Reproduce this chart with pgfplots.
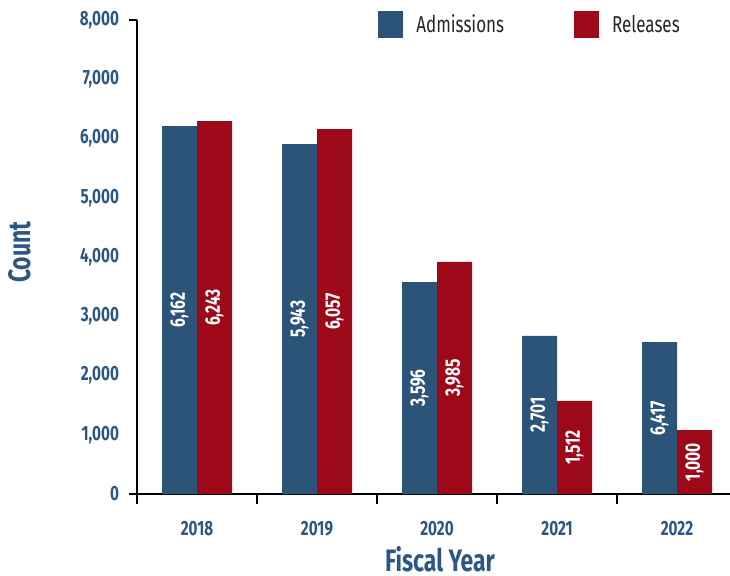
\documentclass[border=0pt]{standalone}
\usepackage{fontspec}
\setmainfont{Fira Sans}[FakeStretch=0.74]
\usepackage{pgfplots}
\pgfplotsset{compat=1.18}
\usetikzlibrary{calc}
\definecolor{admblue}{HTML}{2C5479}
\definecolor{relred}{HTML}{9D0918}
\definecolor{labblue}{HTML}{2D5783}

\begin{document}
\begin{tikzpicture}
\begin{axis}[
  scale only axis, width=300pt, height=237pt,
  xmin=-0.5, xmax=4.5, ymin=0, ymax=8000,
  ybar=0pt, bar width=17.5pt,
  axis lines*=left,
  axis line style={black, line width=0.6pt},
  xtick={0,1,2,3,4}, xticklabels={2018,2019,2020,2021,2022},
  ytick={0,1000,...,8000},
  major tick length=0pt,
  tick style={black, line width=0.6pt},
  extra x ticks={-0.5,0.5,1.5,2.5,3.5,4.5}, extra x tick labels={},
  extra x tick style={tick align=outside, major tick length=5pt},
  extra y ticks={0,8000}, extra y tick labels={},
  extra y tick style={tick align=outside, major tick length=4pt},
  scaled y ticks=false,
  yticklabel={\pgfmathprintnumber[1000 sep={,}]{\tick}},
  /pgf/number format/assume math mode=true,
  tick label style={font=\bfseries\fontsize{10.3}{12}\selectfont, text=labblue},
  xticklabel style={yshift=-10pt},
  yticklabel style={xshift=-5.5pt},
  xlabel={Fiscal Year}, ylabel={Count},
  label style={font=\bfseries\fontsize{15.5}{17}\selectfont, text=labblue},
  xlabel style={at={(axis description cs:0.505,-0.138)}, anchor=center},
  ylabel style={at={(axis description cs:-0.195,0.51)}, anchor=center},
  legend columns=2,
  legend image code/.code={\fill[#1] (0pt,-6.75pt) rectangle (12.5pt,6.75pt);},
  legend style={draw=none, fill=none, inner sep=0pt,
    at={(axis description cs:0.4017,1.021)}, anchor=north west,
    font=\fontsize{11.5}{13}\selectfont, text=black!85,
    /tikz/every odd column/.append style={column sep=4.5pt},
    /tikz/every even column/.append style={column sep=33pt}},
  point meta=explicit symbolic,
  nodes near coords,
  visualization depends on={rawy \as \rawy},
  every node near coord/.append style={shift={(axis direction cs:0,-\rawy/2)},
    rotate=90, anchor=center, text=white, font=\bfseries\fontsize{10.5}{12}\selectfont},
]
\addplot[fill=admblue, draw=none] coordinates {
  (0,6211) [{6,162}]
  (1,5907) [{5,943}]
  (2,3578) [{3,596}]
  (3,2667) [{2,701}]
  (4,2565) [{6,417}]
};
\addlegendentry{Admissions}
\addplot[fill=relred, draw=none] coordinates {
  (0,6295) [{6,243}]
  (1,6160) [{6,057}]
  (2,3916) [{3,985}]
  (3,1570) [{1,512}]
  (4,1080) [{1,000}]
};
\addlegendentry{Releases}
\coordinate (sw) at (rel axis cs:0,0);
\coordinate (ne) at (rel axis cs:1,1);
\end{axis}
\pgfresetboundingbox
\path ($(sw)+(-68.5pt,-40.5pt)$) rectangle ($(ne)+(-3.5pt,10pt)$);
\end{tikzpicture}
\end{document}
